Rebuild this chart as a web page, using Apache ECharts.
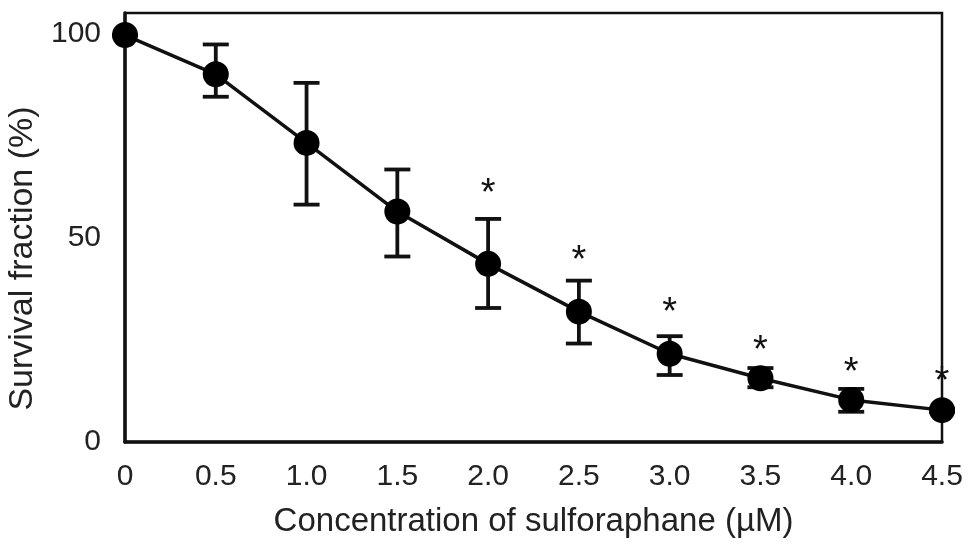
<!DOCTYPE html>
<html>
<head>
<meta charset="utf-8">
<script src="https://cdn.jsdelivr.net/npm/echarts@6/dist/echarts.min.js"></script>
<style>
html,body{margin:0;padding:0;background:#fff;}
#chart{width:969px;height:556px;}
</style>
</head>
<body>
<div id="chart"></div>
<script>
var concentrations = [0, 0.5, 1.0, 1.5, 2.0, 2.5, 3.0, 3.5, 4.0, 4.5];
var survival = [99.6, 90.0, 73.2, 56.4, 43.6, 31.9, 21.6, 15.6, 10.3, 7.8];
var errUpper = [99.6, 97.3, 87.9, 66.7, 54.6, 39.5, 25.9, 18.1, 13.0, 8.2];
var errLower = [99.6, 84.5, 58.1, 45.4, 32.8, 24.1, 16.4, 13.4, 7.4, 7.4];
var starY = [null, null, null, null, 62.7, 46.3, 33.6, 24.3, 18.9, 16.7];
var xTickLabels = ['0', '0.5', '1.0', '1.5', '2.0', '2.5', '3.0', '3.5', '4.0', '4.5'];
var yTickLabels = ['0', '50', '100'];

var FONT = 'Liberation Sans, Arial, Helvetica, sans-serif';
var chart = echarts.init(document.getElementById('chart'));

var lineData = concentrations.map(function (c, i) { return [c, survival[i]]; });
var errData = concentrations.map(function (c, i) { return [c, errLower[i], errUpper[i]]; });
var starData = [];
concentrations.forEach(function (c, i) { if (starY[i] != null) starData.push([c, starY[i]]); });

chart.setOption({
  backgroundColor: '#ffffff',
  animation: false,
  grid: { left: 125, right: 27, top: 13, bottom: 114, show: true, borderColor: '#111', borderWidth: 2.5, backgroundColor: 'transparent', containLabel: false, outerBoundsMode: 'none' },
  xAxis: {
    type: 'value', min: 0, max: 4.5, interval: 0.5,
    name: 'Concentration of sulforaphane (\u00b5M)', nameLocation: 'middle', nameGap: 63,
    nameTextStyle: { fontFamily: FONT, fontSize: 33, color: '#222' },
    axisLine: { show: true, onZero: false, lineStyle: { color: '#111', width: 3.5 } },
    axisTick: { show: false },
    splitLine: { show: false },
    axisLabel: {
      fontFamily: FONT, fontSize: 30, color: '#222', margin: 20,
      formatter: function (v) { var idx = Math.round(v / 0.5); return xTickLabels[idx] || ''; }
    }
  },
  yAxis: {
    type: 'value', min: 0, max: 105, interval: 50,
    name: 'Survival fraction (%)', nameLocation: 'middle', nameGap: 82,
    nameTextStyle: { fontFamily: FONT, fontSize: 34, color: '#222', padding: [0, 62, 0, 0] },
    axisLine: { show: true, onZero: false, lineStyle: { color: '#111', width: 3.5 } },
    axisTick: { show: false },
    splitLine: { show: false },
    axisLabel: {
      fontFamily: FONT, fontSize: 30, color: '#222', margin: 24,
      formatter: function (v) { return yTickLabels.indexOf(String(v)) >= 0 ? String(v) : ''; }
    }
  },
  series: [
    {
      type: 'custom',
      name: 'error',
      data: errData,
      z: 3,
      renderItem: function (params, api) {
        var x = api.value(0);
        var lo = api.coord([x, api.value(1)]);
        var hi = api.coord([x, api.value(2)]);
        var hw = 13;
        var style = { stroke: '#111', lineWidth: 3.8 };
        return {
          type: 'group',
          children: [
            { type: 'line', shape: { x1: lo[0], y1: lo[1], x2: hi[0], y2: hi[1] }, style: style },
            { type: 'line', shape: { x1: lo[0] - hw, y1: lo[1], x2: lo[0] + hw, y2: lo[1] }, style: style },
            { type: 'line', shape: { x1: hi[0] - hw, y1: hi[1], x2: hi[0] + hw, y2: hi[1] }, style: style }
          ]
        };
      }
    },
    {
      type: 'line',
      data: lineData,
      z: 4,
      symbol: 'circle',
      symbolSize: 26,
      showAllSymbol: true,
      lineStyle: { color: '#111', width: 3.5 },
      itemStyle: { color: '#000' }
    },
    {
      type: 'custom',
      name: 'stars',
      data: starData,
      z: 5,
      renderItem: function (params, api) {
        var p = api.coord([api.value(0), api.value(1)]);
        return {
          type: 'text',
          x: p[0], y: p[1] + 9,
          style: { text: '*', fontFamily: FONT, fontSize: 38, fill: '#111', align: 'center', verticalAlign: 'middle' }
        };
      }
    }
  ]
});
</script>
</body>
</html>
